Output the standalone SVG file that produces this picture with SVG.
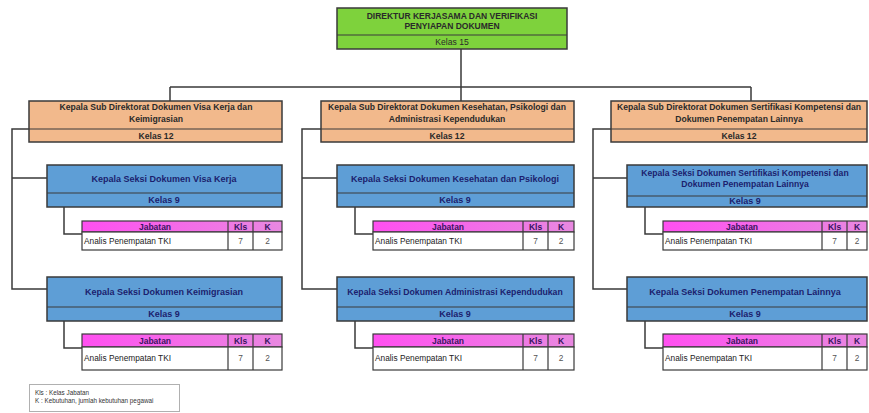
<svg xmlns="http://www.w3.org/2000/svg" width="869" height="413" viewBox="0 0 869 413">
<defs>
<linearGradient id="mag" x1="0" y1="0" x2="1" y2="0">
<stop offset="0" stop-color="#FF4FF0"/>
<stop offset="1" stop-color="#E888E0"/>
</linearGradient>
<style>
text{font-family:"Liberation Sans",Arial,sans-serif;}
.box{stroke:#3a3a3a;stroke-width:1.5;}
.green{fill:#7ED23C;}
.tan{fill:#F2B98C;}
.blue{fill:#5E9ED6;}
.hdr{fill:url(#mag);stroke:#3a3a3a;stroke-width:1.2;}
.row{fill:#ffffff;stroke:#3a3a3a;stroke-width:1.2;}
.div{stroke:#3a3a3a;stroke-width:1.2;fill:none;}
.t{font-size:8.6px;font-weight:bold;text-anchor:middle;fill:#2a2a2a;}
.ts{font-size:9px;font-weight:bold;text-anchor:middle;fill:#1c1f6e;}
.th{font-size:8.5px;font-weight:bold;text-anchor:middle;fill:#3a1460;}
.td{font-size:8.3px;fill:#222;}
.tc{font-size:8.3px;fill:#555;text-anchor:middle;}
.lg{font-size:6.3px;fill:#333;}
.conn{stroke:#3a3a3a;stroke-width:1.5;fill:none;}
</style>
</defs>
<g id="connectors">
<path class="conn" d="M461 49V87M170 87H751M170 87V101M461 87V101M751 87V101"/>
<path class="conn" d="M29 129H12V289H47M12 178H47"/>
<path class="conn" d="M321 129H302V289H337M302 178H337"/>
<path class="conn" d="M611 129H593V289H627M593 178H627"/>
<path class="conn" d="M64 207V234H82M64 321V348H82"/>
<path class="conn" d="M355 207V234H373M355 321V348H373"/>
<path class="conn" d="M645 207V234H663M645 321V348H663"/>
</g>
<g id="direktur">
<rect class="box green" x="337" y="8" width="230" height="41"/>
<line class="div" x1="337" y1="35" x2="567" y2="35"/>
<text class="t" x="452" y="19" style="font-size:8.5px">DIREKTUR KERJASAMA DAN VERIFIKASI</text>
<text class="t" x="452" y="29" style="font-size:8.5px">PENYIAPAN DOKUMEN</text>
<text class="t" x="452" y="45" style="font-weight:normal">Kelas 15</text>
</g>
<g id="subdit1">
<rect class="box tan" x="29" y="101" width="253" height="41"/>
<line class="div" x1="29" y1="129" x2="282" y2="129"/>
<text class="t" x="156" y="110">Kepala Sub Direktorat Dokumen Visa Kerja dan</text>
<text class="t" x="156" y="122">Keimigrasian</text>
<text class="t" x="156" y="139">Kelas 12</text>
</g>
<g id="subdit2">
<rect class="box tan" x="321" y="101" width="253" height="41"/>
<line class="div" x1="321" y1="129" x2="574" y2="129"/>
<text class="t" x="447" y="110">Kepala Sub Direktorat Dokumen Kesehatan, Psikologi dan</text>
<text class="t" x="447" y="122">Administrasi Kependudukan</text>
<text class="t" x="447" y="139">Kelas 12</text>
</g>
<g id="subdit3">
<rect class="box tan" x="611" y="101" width="256" height="41"/>
<line class="div" x1="611" y1="129" x2="867" y2="129"/>
<text class="t" x="739" y="110">Kepala Sub Direktorat Dokumen Sertifikasi Kompetensi dan</text>
<text class="t" x="739" y="122">Dokumen Penempatan Lainnya</text>
<text class="t" x="739" y="139">Kelas 12</text>
</g>
<g id="seksi-visa">
<rect class="box blue" x="47" y="165" width="235" height="42"/>
<line class="div" x1="47" y1="193" x2="282" y2="193"/>
<text class="ts" x="164" y="182">Kepala Seksi Dokumen Visa Kerja</text>
<text class="ts" x="164" y="203">Kelas 9</text>
</g>
<g id="seksi-imigrasi">
<rect class="box blue" x="47" y="277" width="235" height="44"/>
<line class="div" x1="47" y1="307" x2="282" y2="307"/>
<text class="ts" x="164" y="295">Kepala Seksi Dokumen Keimigrasian</text>
<text class="ts" x="164" y="317">Kelas 9</text>
</g>
<g id="seksi-kesehatan">
<rect class="box blue" x="337" y="165" width="237" height="42"/>
<line class="div" x1="337" y1="193" x2="574" y2="193"/>
<text class="ts" x="455" y="182">Kepala Seksi Dokumen Kesehatan dan Psikologi</text>
<text class="ts" x="455" y="203">Kelas 9</text>
</g>
<g id="seksi-adminduk">
<rect class="box blue" x="337" y="277" width="237" height="44"/>
<line class="div" x1="337" y1="307" x2="574" y2="307"/>
<text class="ts" x="455" y="295" style="font-size:8.7px">Kepala Seksi Dokumen Administrasi Kependudukan</text>
<text class="ts" x="455" y="317">Kelas 9</text>
</g>
<g id="seksi-sertifikasi">
<rect class="box blue" x="627" y="165" width="240" height="42"/>
<line class="div" x1="627" y1="196" x2="867" y2="196"/>
<text class="ts" x="745" y="176" style="font-size:8.6px">Kepala Seksi Dokumen Sertifikasi Kompetensi dan</text>
<text class="ts" x="745" y="187" style="font-size:8.6px">Dokumen Penempatan Lainnya</text>
<text class="ts" x="745" y="204">Kelas 9</text>
</g>
<g id="seksi-lainnya">
<rect class="box blue" x="627" y="277" width="240" height="44"/>
<line class="div" x1="627" y1="307" x2="867" y2="307"/>
<text class="ts" x="745" y="295">Kepala Seksi Dokumen Penempatan Lainnya</text>
<text class="ts" x="745" y="317">Kelas 9</text>
</g>
<g id="tabel-1">
<rect class="hdr" x="82" y="221" width="200" height="11"/>
<rect class="row" x="82" y="232" width="200" height="18"/>
<path class="div" d="M228 221V250M253 221V250"/>
<text class="th" x="155" y="229.8">Jabatan</text>
<text class="th" x="240.5" y="229.8">Kls</text>
<text class="th" x="267.5" y="229.8">K</text>
<text class="td" x="84" y="244">Analis Penempatan TKI</text>
<text class="tc" x="240.5" y="244">7</text>
<text class="tc" x="267.5" y="244">2</text>
</g>
<g id="tabel-2">
<rect class="hdr" x="82" y="334" width="200" height="13"/>
<rect class="row" x="82" y="347" width="200" height="23"/>
<path class="div" d="M228 334V370M253 334V370"/>
<text class="th" x="155" y="343.8">Jabatan</text>
<text class="th" x="240.5" y="343.8">Kls</text>
<text class="th" x="267.5" y="343.8">K</text>
<text class="td" x="84" y="361">Analis Penempatan TKI</text>
<text class="tc" x="240.5" y="361">7</text>
<text class="tc" x="267.5" y="361">2</text>
</g>
<g id="tabel-3">
<rect class="hdr" x="373" y="221" width="201" height="11"/>
<rect class="row" x="373" y="232" width="201" height="18"/>
<path class="div" d="M523 221V250M548 221V250"/>
<text class="th" x="448" y="229.8">Jabatan</text>
<text class="th" x="535.5" y="229.8">Kls</text>
<text class="th" x="561" y="229.8">K</text>
<text class="td" x="375" y="244">Analis Penempatan TKI</text>
<text class="tc" x="535.5" y="244">7</text>
<text class="tc" x="561" y="244">2</text>
</g>
<g id="tabel-4">
<rect class="hdr" x="373" y="334" width="201" height="13"/>
<rect class="row" x="373" y="347" width="201" height="23"/>
<path class="div" d="M523 334V370M548 334V370"/>
<text class="th" x="448" y="343.8">Jabatan</text>
<text class="th" x="535.5" y="343.8">Kls</text>
<text class="th" x="561" y="343.8">K</text>
<text class="td" x="375" y="361">Analis Penempatan TKI</text>
<text class="tc" x="535.5" y="361">7</text>
<text class="tc" x="561" y="361">2</text>
</g>
<g id="tabel-5">
<rect class="hdr" x="663" y="221" width="204" height="11"/>
<rect class="row" x="663" y="232" width="204" height="18"/>
<path class="div" d="M822 221V250M847 221V250"/>
<text class="th" x="742" y="229.8">Jabatan</text>
<text class="th" x="834.5" y="229.8">Kls</text>
<text class="th" x="857" y="229.8">K</text>
<text class="td" x="665" y="244">Analis Penempatan TKI</text>
<text class="tc" x="834.5" y="244">7</text>
<text class="tc" x="857" y="244">2</text>
</g>
<g id="tabel-6">
<rect class="hdr" x="663" y="334" width="204" height="13"/>
<rect class="row" x="663" y="347" width="204" height="23"/>
<path class="div" d="M822 334V370M847 334V370"/>
<text class="th" x="742" y="343.8">Jabatan</text>
<text class="th" x="834.5" y="343.8">Kls</text>
<text class="th" x="857" y="343.8">K</text>
<text class="td" x="665" y="361">Analis Penempatan TKI</text>
<text class="tc" x="834.5" y="361">7</text>
<text class="tc" x="857" y="361">2</text>
</g>
<g id="legenda">
<rect x="29.5" y="384.5" width="150" height="27" fill="#ffffff" stroke="#b0b0b0" stroke-width="1"/>
<text class="lg" x="35" y="395">Kls : Kelas Jabatan</text>
<text class="lg" x="35" y="403">K    : Kebutuhan, jumlah kebutuhan pegawai</text>
</g>
</svg>
